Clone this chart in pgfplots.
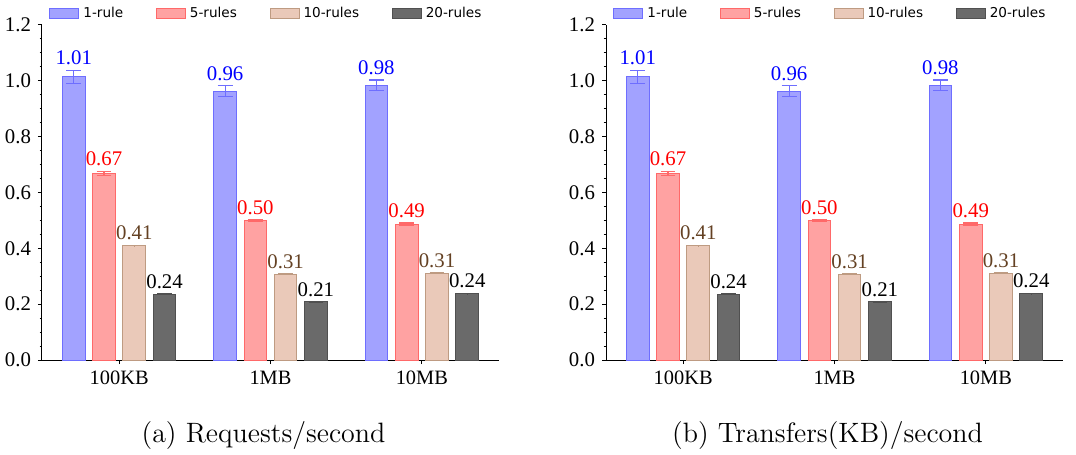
\documentclass[border=0pt]{standalone}
\usepackage{pgfplots}
\pgfplotsset{compat=1.18}
\usepackage{pgfplotstable}
\usepackage{fontspec}
\newfontfamily\timesf{Liberation Serif}
\newfontfamily\dejavu{DejaVu Sans}

\definecolor{cAfill}{RGB}{162,162,255}
\definecolor{cAedge}{RGB}{110,110,255}
\definecolor{cBfill}{RGB}{255,162,162}
\definecolor{cBedge}{RGB}{255,105,105}
\definecolor{cCfill}{RGB}{234,201,185}
\definecolor{cCedge}{RGB}{190,155,130}
\definecolor{cDfill}{RGB}{106,106,106}
\definecolor{cDedge}{RGB}{80,80,80}
\definecolor{cClab}{RGB}{100,65,35}

% x: bar centre, y: value, e: error, t: top of error bar
\pgfplotstableread{
x y e t
-0.3 1.014 0.024 1.038
0.7 0.963 0.020 0.983
1.7 0.984 0.019 1.003
}\ruleA
\pgfplotstableread{
x y e t
-0.1 0.669 0.007 0.676
0.9 0.499 0.004 0.503
1.9 0.487 0.004 0.491
}\ruleB
\pgfplotstableread{
x y e t
0.1 0.410 0.001 0.411
1.1 0.307 0.001 0.308
2.1 0.311 0.001 0.312
}\ruleC
\pgfplotstableread{
x y e t
0.3 0.236 0.001 0.237
1.3 0.208 0.001 0.209
2.3 0.238 0.001 0.239
}\ruleD

\pgfplotsset{
  myaxis/.style={
    scale only axis, width=228.5pt, height=167.5pt,
    xmin=-0.51, xmax=2.51, ymin=0, ymax=1.2,
    axis x line*=bottom, axis y line*=left,
    axis line style={line width=0.5pt},
    xtick={0,1,2}, xticklabels={100KB,1MB,10MB},
    ytick={0,0.2,0.4,0.6,0.8,1.0,1.2}, minor y tick num=3,
    tick align=outside, major tick length=2pt, minor tick length=1.2pt,
    tick style={black, line width=0.5pt},
    /pgf/number format/assume math mode=true,
    xticklabel style={font=\timesf\fontsize{10.2}{12}\selectfont},
    yticklabel style={font=\timesf\fontsize{10.4}{12}\selectfont,
      /pgf/number format/.cd, fixed, fixed zerofill, precision=1, assume math mode=true},
    legend columns=4,
    legend cell align=left,
    legend style={at={(axis description cs:0.0153,1)}, anchor=south west,
      draw=none, fill=none, inner sep=0pt,
      font=\dejavu\fontsize{6.8}{8}\selectfont,
      /tikz/every even column/.append style={column sep=14.3pt}},
  },
  mybar/.style n args={2}{
    ybar, bar width=0.15, bar shift=0pt, fill=#1, draw=#2, line width=0.5pt,
    legend image code/.code={\draw[fill=#1,draw=#2,line width=0.5pt] (0pt,-2.5pt) rectangle (14.5pt,2.5pt);},
    error bars/.cd, y dir=both, y explicit,
    error bar style={draw=#2, line width=0.6pt},
    error mark options={rotate=90, mark size=3.7pt, draw=#2, line width=0.6pt},
  },
  mylab/.style={
    forget plot, draw=none, mark=none, point meta=explicit,
    nodes near coords={\timesf\pgfmathprintnumber[fixed,fixed zerofill,precision=2,assume math mode=true]{\pgfplotspointmeta}},
    every node near coord/.append style={anchor=south, inner sep=0pt, text=#1,
      font=\timesf\fontsize{10.4}{12}\selectfont, yshift=2.3pt},
  },
}

\newcommand\drawbars{%
  \addplot[mybar={cAfill}{cAedge}] table[x=x, y=y, y error=e] {\ruleA};
  \addlegendentry{1-rule}
  \addplot[mybar={cBfill}{cBedge}] table[x=x, y=y, y error=e] {\ruleB};
  \addlegendentry{5-rules}
  \addplot[mybar={cCfill}{cCedge}] table[x=x, y=y, y error=e] {\ruleC};
  \addlegendentry{10-rules}
  \addplot[mybar={cDfill}{cDedge}] table[x=x, y=y, y error=e] {\ruleD};
  \addlegendentry{20-rules}
  \addplot[mylab=blue] table[x=x, y=t, meta=y] {\ruleA};
  \addplot[mylab=red] table[x=x, y=t, meta=y] {\ruleB};
  \addplot[mylab=cClab] table[x=x, y=t, meta=y] {\ruleC};
  \addplot[mylab=black] table[x=x, y=t, meta=y] {\ruleD};
}

\begin{document}
\begin{tikzpicture}
\useasboundingbox (0,0) rectangle (538pt,227.5pt);
\begin{axis}[myaxis, at={(21pt,47.5pt)}, anchor=south west]
\drawbars
\end{axis}
\begin{axis}[myaxis, at={(303pt,47.5pt)}, anchor=south west]
\drawbars
\end{axis}
\node[anchor=base, font=\fontsize{14}{16.5}\selectfont] at (131.75pt,6pt) {(a) Requests/second};
\node[anchor=base, font=\fontsize{14}{16.5}\selectfont] at (413.75pt,6pt) {(b) Transfers(KB)/second};
\end{tikzpicture}
\end{document}
